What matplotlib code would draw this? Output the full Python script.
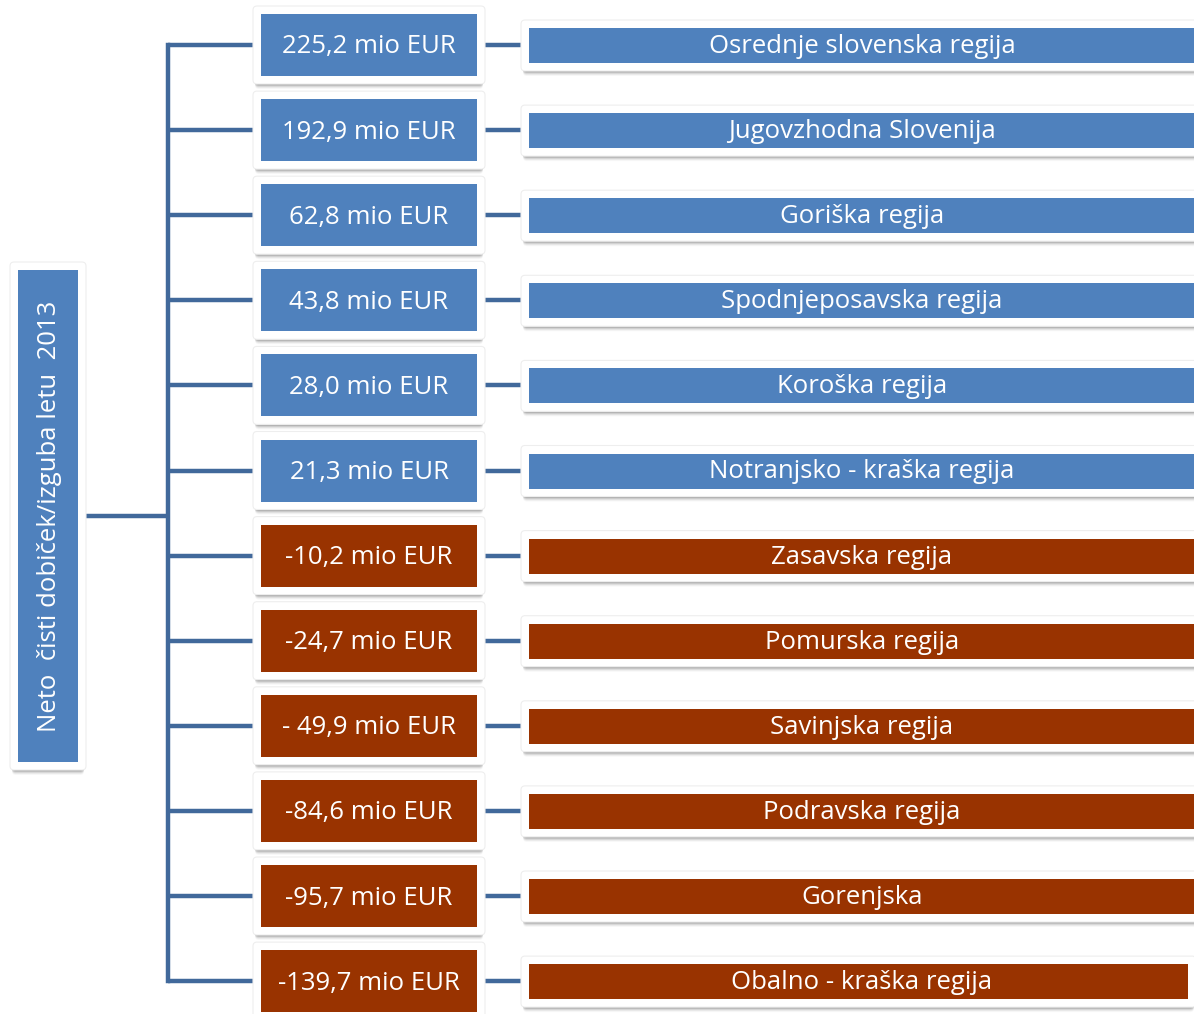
import matplotlib.pyplot as plt
from matplotlib.patches import Rectangle, FancyBboxPatch

# Net profit / loss by region, 2013 (mio EUR)
regions = ['Osrednje slovenska regija', 'Jugovzhodna Slovenija', 'Goriška regija',
           'Spodnjeposavska regija', 'Koroška regija', 'Notranjsko - kraška regija',
           'Zasavska regija', 'Pomurska regija', 'Savinjska regija',
           'Podravska regija', 'Gorenjska', 'Obalno - kraška regija']
values = [225.2, 192.9, 62.8, 43.8, 28.0, 21.3, -10.2, -24.7, -49.9, -84.6, -95.7, -139.7]
value_texts = ['225,2 mio EUR', '192,9 mio EUR', '62,8 mio EUR', '43,8 mio EUR',
               '28,0 mio EUR', '21,3 mio EUR', '-10,2 mio EUR', '-24,7 mio EUR',
               '- 49,9 mio EUR', '-84,6 mio EUR', '-95,7 mio EUR', '-139,7 mio EUR']
root_text = 'Neto  čisti dobiček/izguba letu  2013'

BLUE = '#4F81BD'
BROWN = '#993300'
LINE = '#41699B'
FONT = 'Open Sans'
FS = 18.5

W, H = 1194, 1014
fig = plt.figure(figsize=(W / 100, H / 100), dpi=100)
ax = fig.add_axes([0, 0, 1, 1])
ax.set_xlim(0, W)
ax.set_ylim(H, 0)
ax.axis('off')


def box(x0, y0, x1, y1, color, pad=8):
    # soft grey shadow under the white frame
    for k, a in enumerate([0.14, 0.11, 0.08, 0.05, 0.03]):
        ax.add_patch(FancyBboxPatch((x0 - pad + 2, y0 - pad + 1 + k), (x1 - x0) + 2 * pad - 4,
                                    (y1 - y0) + 2 * pad, boxstyle='round,pad=0,rounding_size=4',
                                    facecolor='black', alpha=a, edgecolor='none', zorder=2))
    ax.add_patch(FancyBboxPatch((x0 - pad, y0 - pad), (x1 - x0) + 2 * pad, (y1 - y0) + 2 * pad,
                                boxstyle='round,pad=0,rounding_size=4',
                                facecolor='white', edgecolor='#eeeeee', lw=0.8, zorder=3))
    ax.add_patch(Rectangle((x0, y0), x1 - x0, y1 - y0, facecolor=color,
                           edgecolor='none', zorder=4))


row_y = [45 + i * 85.1 for i in range(len(regions))]

# tree connectors
ax.plot([86, 168], [516, 516], color=LINE, lw=3.2, zorder=1, solid_capstyle='butt')
ax.plot([168, 168], [row_y[0], row_y[-1]], color=LINE, lw=3.2, zorder=1, solid_capstyle='projecting')
for y in row_y:
    ax.plot([168, 256], [y, y], color=LINE, lw=3.2, zorder=1, solid_capstyle='butt')
    ax.plot([480, 524], [y, y], color=LINE, lw=3.2, zorder=1, solid_capstyle='butt')

# root box
box(18, 270, 78, 762, BLUE)
ax.text(50, 516, root_text, rotation=90, ha='center', va='center', color='white',
        fontsize=FS, family=FONT, zorder=5)

for y, v, vt, name in zip(row_y, values, value_texts, regions):
    c = BLUE if v > 0 else BROWN
    box(261, y - 31, 477, y + 31, c)
    ax.text(369, y + 2, vt, ha='center', va='center', color='white', fontsize=FS,
            family=FONT, zorder=5)
    right = 1188 if name == regions[-1] else 1210
    box(529, y - 17, right, y + 18, c)
    ax.text(862, y + 1.5, name, ha='center', va='center', color='white', fontsize=FS,
            family=FONT, zorder=5)

fig.savefig('out.png', dpi=100)
